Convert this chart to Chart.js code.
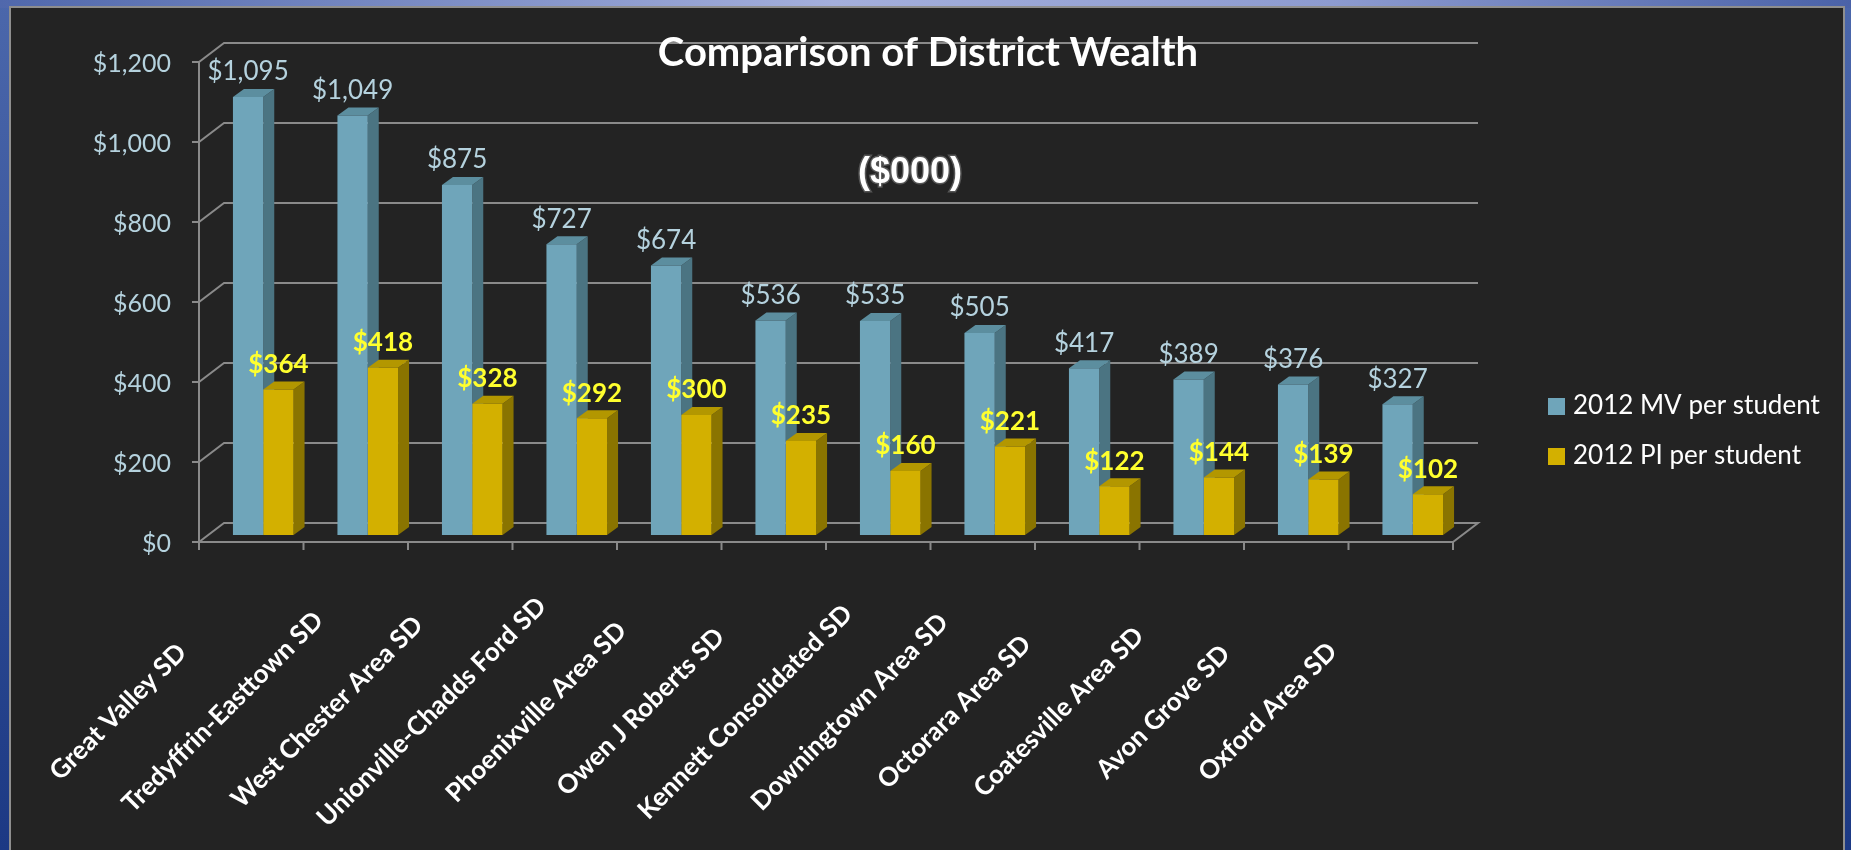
<!DOCTYPE html>
<html>
<head>
<meta charset="utf-8">
<script src="https://cdn.jsdelivr.net/npm/chart.js@4/dist/chart.umd.min.js"></script>
<style>
  body { margin: 0; width: 1851px; height: 850px; overflow: hidden;
         background: linear-gradient(to bottom, #4b67ab, #1c3984); }
  #topband { position: absolute; left: 0; top: 0; width: 1851px; height: 8px;
             background: linear-gradient(to right, #5068ac, #a4afdc 45%, #8d9bd0 72%, #4a62a8); }
  #panel { position: absolute; left: 9px; top: 6px; width: 1836px; height: 860px;
           background: #232323; border: 2px solid #8e8e8e; box-sizing: border-box; }
  #chart { position: absolute; left: 0; top: 0; }
</style>
</head>
<body>
<div id="topband"></div>
<div id="panel"></div>
<canvas id="chart" width="1851" height="850"></canvas>
<script>
// Chart values ($000 per student)
const categories = ['Great Valley SD', 'Tredyffrin-Easttown SD', 'West Chester Area SD',
    'Unionville-Chadds Ford SD', 'Phoenixville Area SD', 'Owen J Roberts SD',
    'Kennett Consolidated SD', 'Downingtown Area SD', 'Octorara Area SD',
    'Coatesville Area SD', 'Avon Grove SD', 'Oxford Area SD'];
const mvPerStudent = [1095, 1049, 875, 727, 674, 536, 535, 505, 417, 389, 376, 327];
const piPerStudent = [364, 418, 328, 292, 300, 235, 160, 221, 122, 144, 139, 102];
const yTickValues = [0, 200, 400, 600, 800, 1000, 1200];
const seriesNames = ['2012 MV per student', '2012 PI per student'];

// fake 3D offsets (front wall, back wall, bar depth)
const front = { dx: -12, dy: 7 };
const back = { dx: 13, dy: -12 };
const depth = { dx: 11, dy: -8 };

const money = v => '$' + v.toLocaleString('en-US');

function poly(ctx, pts, fill) {
    ctx.beginPath();
    ctx.moveTo(pts[0][0], pts[0][1]);
    pts.slice(1).forEach(p => ctx.lineTo(p[0], p[1]));
    ctx.closePath();
    ctx.fillStyle = fill;
    ctx.fill();
}

// grid walls + bar sides, drawn under the front faces
const threeD = {
    id: 'threeD',
    beforeDatasetsDraw(chart) {
        const { ctx, chartArea: a, scales: { x, y } } = chart;
        ctx.save();
        ctx.strokeStyle = '#8a8a8a';
        ctx.lineWidth = 2;
        yTickValues.forEach(v => {
            const py = y.getPixelForValue(v);
            ctx.beginPath();
            ctx.moveTo(a.left + front.dx - 7, py + front.dy);
            ctx.lineTo(a.left + front.dx, py + front.dy);
            ctx.lineTo(a.left + back.dx, py + back.dy);
            ctx.lineTo(a.right + back.dx, py + back.dy);
            if (v === 0) {
                ctx.lineTo(a.right + front.dx, py + front.dy);
                ctx.lineTo(a.left + front.dx, py + front.dy);
            }
            ctx.stroke();
        });
        // front value axis
        const top = y.getPixelForValue(yTickValues[yTickValues.length - 1]);
        const zero = y.getPixelForValue(0);
        ctx.beginPath();
        ctx.moveTo(a.left + front.dx, top + front.dy);
        ctx.lineTo(a.left + front.dx, zero + front.dy);
        ctx.stroke();
        // category tick marks
        const step = x.getPixelForValue(1) - x.getPixelForValue(0);
        for (let i = 0; i <= categories.length; i++) {
            const px = x.getPixelForValue(0) - step / 2 + i * step + front.dx;
            ctx.beginPath();
            ctx.moveTo(px, zero + front.dy);
            ctx.lineTo(px, zero + front.dy + 8);
            ctx.stroke();
        }
        // bar side and top faces
        chart.data.datasets.forEach((ds, di) => {
            chart.getDatasetMeta(di).data.forEach(bar => {
                const l = bar.x - bar.width / 2, r = bar.x + bar.width / 2;
                const t = bar.y, b = bar.base;
                poly(ctx, [[r, t], [r + depth.dx, t + depth.dy], [r + depth.dx, b + depth.dy], [r, b]], ds.sideColor);
                poly(ctx, [[l, t], [l + depth.dx, t + depth.dy], [r + depth.dx, t + depth.dy], [r, t]], ds.topColor);
            });
        });
        ctx.restore();
    },
    afterDatasetsDraw(chart) {
        const { ctx } = chart;
        ctx.save();
        ctx.textAlign = 'center';
        ctx.textBaseline = 'middle';
        chart.data.datasets.forEach((ds, di) => {
            ctx.font = ds.labelFont;
            ctx.fillStyle = ds.labelColor;
            chart.getDatasetMeta(di).data.forEach((bar, i) => {
                ctx.fillText(money(ds.data[i]), bar.x, bar.y - 25);
            });
        });
        ctx.restore();
    },
    afterDraw(chart) {
        const { ctx, scales: { x } } = chart;
        ctx.save();
        ctx.fillStyle = '#ffffff';
        ctx.textAlign = 'center';
        ctx.textBaseline = 'middle';
        ctx.font = 'bold 40px Lato';
        ctx.fillText('Comparison of District Wealth', 928, 53);
        ctx.font = 'bold 36px "Liberation Sans"';
        ctx.lineWidth = 3;
        ctx.strokeStyle = '#555555';
        ctx.strokeText('($000)', 910, 173);
        ctx.fillText('($000)', 910, 173);

        // rotated category labels
        ctx.font = 'bold 26px Lato';
        categories.forEach((c, i) => {
            ctx.save();
            ctx.translate(x.getPixelForValue(i) - 145, 712);
            ctx.rotate(-Math.PI / 4);
            ctx.fillText(c, 0, 0);
            ctx.restore();
        });

        // legend
        ctx.textAlign = 'left';
        ctx.font = '26px Lato';
        chart.data.datasets.forEach((ds, di) => {
            const cy = 406 + di * 50;
            ctx.fillStyle = ds.backgroundColor;
            ctx.fillRect(1548, cy - 8, 17, 17);
            ctx.fillStyle = '#ffffff';
            ctx.fillText(ds.label, 1573, cy);
        });
        ctx.restore();
    }
};

new Chart(document.getElementById('chart'), {
    type: 'bar',
    data: {
        labels: categories,
        datasets: [
            { label: seriesNames[0], data: mvPerStudent, backgroundColor: '#6fa5ba',
              sideColor: '#4b7482', topColor: '#5c8e9f',
              labelFont: '26px Lato', labelColor: '#b5d2de' },
            { label: seriesNames[1], data: piPerStudent, backgroundColor: '#d3b000',
              sideColor: '#8a7400', topColor: '#b39700',
              labelFont: 'bold 26px Lato', labelColor: '#ffff2e' }
        ]
    },
    options: {
        responsive: false,
        animation: false,
        categoryPercentage: 0.58,
        barPercentage: 1.0,
        layout: { padding: { left: 0, top: 55, right: 386, bottom: 315 } },
        plugins: { legend: { display: false }, tooltip: { enabled: false } },
        scales: {
            x: { display: false },
            y: {
                min: 0, max: 1200,
                afterFit: s => { s.width = 211; },
                afterBuildTicks: s => { s.ticks = yTickValues.map(v => ({ value: v })); },
                grid: { display: false },
                border: { display: false },
                ticks: {
                    color: '#b5d2de',
                    font: { family: 'Lato', size: 25 },
                    padding: 32,
                    labelOffset: 9,
                    callback: v => money(v)
                }
            }
        }
    },
    plugins: [threeD]
});
</script>
</body>
</html>
